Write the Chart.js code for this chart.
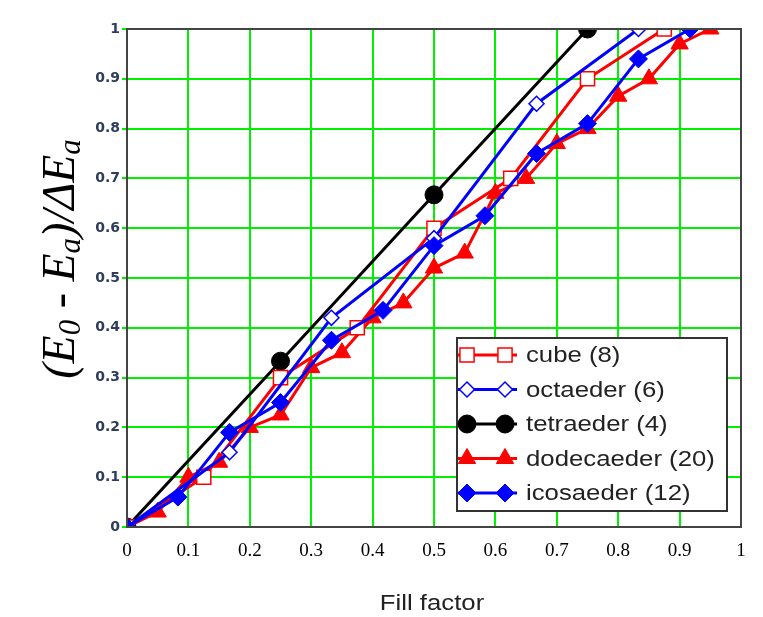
<!DOCTYPE html>
<html>
<head>
<meta charset="utf-8">
<title>Fill factor chart</title>
<script src="https://cdn.jsdelivr.net/npm/chart.js@4/dist/chart.umd.min.js"></script>
<style>
  html, body { margin: 0; padding: 0; background: #fff; }
  #wrap { width: 763px; height: 617px; }
</style>
</head>
<body>
<div id="wrap"><canvas id="chart" width="763" height="617"></canvas></div>
<script>
/* data */
const tickValues = [0, 0.1, 0.2, 0.3, 0.4, 0.5, 0.6, 0.7, 0.8, 0.9, 1];

const cubeX = [0, 0.125, 0.25, 0.375, 0.5, 0.625, 0.75, 0.875];
const cubeY = [0, 0.1, 0.3, 0.4, 0.6, 0.7, 0.9, 1.0];

const octX = [0, 0.167, 0.333, 0.5, 0.667, 0.833];
const octY = [0, 0.15, 0.42, 0.58, 0.85, 1.0];

const tetX = [0, 0.25, 0.5, 0.75];
const tetY = [0, 0.333, 0.667, 1.0];

const dodX = [0, 0.05, 0.1, 0.15, 0.2, 0.25, 0.3, 0.35, 0.4, 0.45, 0.5, 0.55, 0.6, 0.65, 0.7, 0.75, 0.8, 0.85, 0.9, 0.95];
const dodY = [0, 0.03, 0.1, 0.13, 0.2, 0.225, 0.32, 0.35, 0.42, 0.45, 0.52, 0.55, 0.67, 0.70, 0.77, 0.80, 0.865, 0.90, 0.97, 1.0];

const icoX = [0, 0.083, 0.167, 0.25, 0.333, 0.417, 0.5, 0.583, 0.667, 0.75, 0.833, 0.917];
const icoY = [0, 0.06, 0.19, 0.25, 0.375, 0.435, 0.565, 0.625, 0.75, 0.81, 0.94, 1.0];

const seriesNames = ['cube (8)', 'octaeder (6)', 'tetraeder (4)', 'dodecaeder (20)', 'icosaeder (12)'];

const pts = (xs, ys) => xs.map((x, i) => ({ x: x, y: ys[i] }));

// styles for each series (also used by the hand drawn legend)
const STYLES = [
    { color: '#ff0000', point: 'rect',     radius: 10, fill: '#ffffff', pw: 1.5, order: 2 },
    { color: '#0000ff', point: 'rectRot',  radius: 7.5, fill: '#ffffff', pw: 1.5, order: 1 },
    { color: '#000000', point: 'circle',   radius: 9,  fill: '#000000', pw: 1,   order: 4 },
    { color: '#ff0000', point: 'triangle', radius: 10, fill: '#ff0000', pw: 1,   order: 3 },
    { color: '#0000ff', point: 'rectRot',  radius: 9,  fill: '#0000ff', pw: 1,   order: 0 }
];

const seriesData = [pts(cubeX, cubeY), pts(octX, octY), pts(tetX, tetY), pts(dodX, dodY), pts(icoX, icoY)];

const datasets = seriesNames.map((name, i) => ({
    label: name,
    data: seriesData[i],
    showLine: true,
    borderColor: STYLES[i].color,
    borderWidth: 3,
    backgroundColor: STYLES[i].fill,
    pointStyle: STYLES[i].point,
    pointRadius: STYLES[i].radius,
    pointBorderColor: STYLES[i].color,
    pointBackgroundColor: STYLES[i].fill,
    pointBorderWidth: STYLES[i].pw,
    order: STYLES[i].order,
    tension: 0
}));

function marker(ctx, st, x, y) {
    const r = st.radius;
    ctx.save();
    ctx.fillStyle = st.fill;
    ctx.strokeStyle = st.color;
    ctx.lineWidth = st.pw;
    ctx.beginPath();
    if (st.point === 'rect') {
        const h = r * Math.SQRT1_2;
        ctx.rect(x - h, y - h, h * 2, h * 2);
    } else if (st.point === 'rectRot') {
        ctx.moveTo(x, y - r); ctx.lineTo(x + r, y); ctx.lineTo(x, y + r); ctx.lineTo(x - r, y); ctx.closePath();
    } else if (st.point === 'circle') {
        ctx.arc(x, y, r, 0, Math.PI * 2);
    } else if (st.point === 'triangle') {
        const a = Math.PI * 2 / 3;
        ctx.moveTo(x, y - r);
        ctx.lineTo(x + Math.sin(a) * r, y - Math.cos(a) * r);
        ctx.lineTo(x - Math.sin(a) * r, y - Math.cos(a) * r);
        ctx.closePath();
    }
    ctx.fill();
    ctx.stroke();
    ctx.restore();
}

// text that looks a bit wider than the font, like the original
function wideText(ctx, text, x, y, sx) {
    ctx.save();
    ctx.translate(x, y);
    ctx.scale(sx, 1);
    ctx.fillText(text, 0, 0);
    ctx.restore();
}

// border, legend and the axis titles
const decor = {
    id: 'decor',
    afterDatasetsDraw(chart) {
        const ctx = chart.ctx;
        const a = chart.chartArea;

        ctx.save();
        ctx.strokeStyle = '#444';
        ctx.lineWidth = 2;
        ctx.strokeRect(a.left, a.top, a.right - a.left, a.bottom - a.top);

        // legend box
        const bx = 457, by = 338, bw = 270, bh = 173;
        ctx.fillStyle = '#fff';
        ctx.fillRect(bx, by, bw, bh);
        ctx.strokeStyle = '#333';
        ctx.strokeRect(bx, by, bw, bh);

        ctx.font = '22px "Liberation Sans", Arial, sans-serif';
        ctx.textBaseline = 'middle';
        ctx.textAlign = 'left';
        seriesNames.forEach((name, i) => {
            const y = 355 + i * 34.5;
            const st = STYLES[i];
            ctx.strokeStyle = st.color;
            ctx.lineWidth = 3;
            ctx.beginPath();
            ctx.moveTo(458, y);
            ctx.lineTo(517, y);
            ctx.stroke();
            marker(ctx, st, 467, y);
            marker(ctx, st, 505, y);
            ctx.fillStyle = '#222';
            wideText(ctx, name, 526, y + 1, 1.17);
        });

        // x title
        ctx.fillStyle = '#222';
        ctx.textAlign = 'center';
        ctx.textBaseline = 'middle';
        ctx.font = '22px "Liberation Sans", Arial, sans-serif';
        wideText(ctx, 'Fill factor', 432, 604, 1.17);

        // y title, rotated, with subscripts
        const parts = [
            ['(', 0], ['E', 0], ['0', 1], [' - ', 0], ['E', 0], ['a', 1], [')', 0], ['/', 0], ['Δ', 0], ['E', 0], ['a', 1]
        ];
        const big = 'italic 46px "Liberation Serif", "Times New Roman", serif';
        const small = 'italic 31px "Liberation Serif", "Times New Roman", serif';
        let total = 0;
        parts.forEach(p => { ctx.font = p[1] ? small : big; total += ctx.measureText(p[0]).width; });
        ctx.translate(74, 259);
        ctx.rotate(-Math.PI / 2);
        ctx.textAlign = 'left';
        ctx.textBaseline = 'alphabetic';
        ctx.fillStyle = '#000';
        let cx = -total / 2;
        parts.forEach(p => {
            ctx.font = p[1] ? small : big;
            ctx.fillText(p[0], cx, p[1] ? 6 : 0);
            cx += ctx.measureText(p[0]).width;
        });
        ctx.restore();
    }
};

const fmt = v => String(Math.round(v * 10) / 10);

new Chart(document.getElementById('chart'), {
    type: 'scatter',
    data: { datasets: datasets },
    options: {
        responsive: false,
        animation: false,
        layout: { padding: { left: 0, right: 22, top: 29, bottom: 0 } },
        plugins: {
            legend: { display: false },
            tooltip: { enabled: false }
        },
        scales: {
            x: {
                type: 'linear',
                min: 0, max: 1,
                afterFit: s => { s.height = 90; },
                afterBuildTicks: s => { s.ticks = tickValues.map(v => ({ value: v })); },
                border: { display: false },
                grid: { color: '#00f000', lineWidth: 2, drawTicks: false },
                ticks: {
                    color: '#000',
                    padding: 13,
                    maxRotation: 0,
                    callback: fmt,
                    font: { family: '"Liberation Serif", "Times New Roman", serif', size: 19 }
                }
            },
            y: {
                type: 'linear',
                min: 0, max: 1,
                afterFit: s => { s.width = 127; },
                afterBuildTicks: s => { s.ticks = tickValues.map(v => ({ value: v })); },
                border: { display: false },
                grid: { color: '#00f000', lineWidth: 2, tickLength: 5 },
                ticks: {
                    color: '#2f3d5c',
                    padding: 2,
                    callback: fmt,
                    font: { family: '"DejaVu Sans", Verdana, sans-serif', size: 14, weight: 'bold' }
                }
            }
        }
    },
    plugins: [decor]
});
</script>
</body>
</html>
